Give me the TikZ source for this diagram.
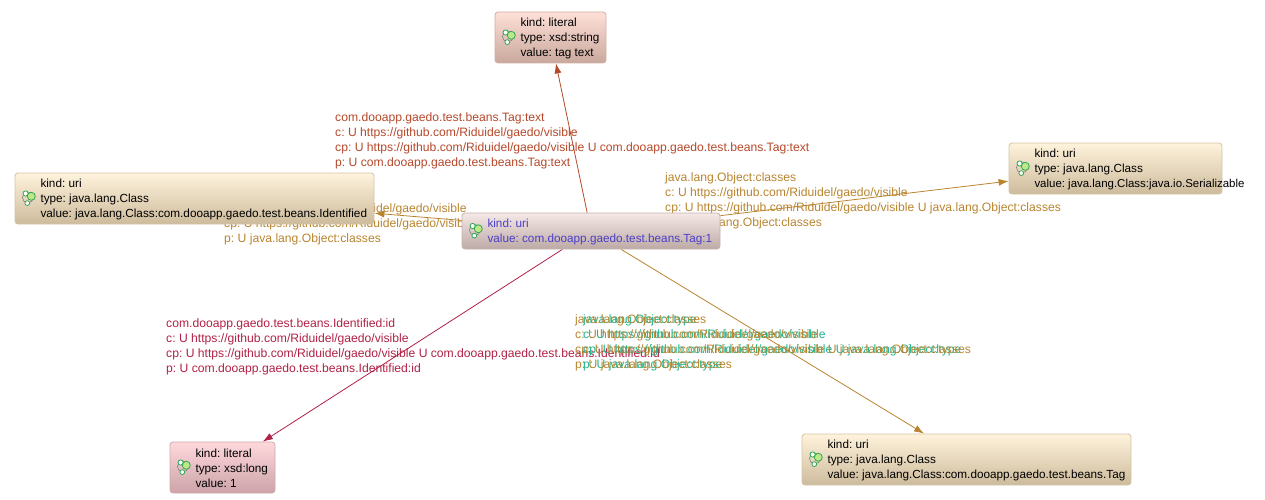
\documentclass[tikz,border=0pt]{standalone}
\usepackage{fontspec}
\setmainfont{Liberation Sans}
\frenchspacing
\usetikzlibrary{arrows.meta}
\pgfdeclarelayer{lab}\pgfdeclarelayer{edge}
\pgfsetlayers{lab,edge,main}
\definecolor{cTop}{HTML}{B5482A}
\definecolor{cBrown}{HTML}{B8842E}
\definecolor{cRed}{HTML}{B02145}
\definecolor{cGreen}{HTML}{22B58F}
\definecolor{cBlue}{HTML}{4A3FC8}
\definecolor{cIconG}{HTML}{2FA84F}
\definecolor{cIconF}{HTML}{BDE88A}
\tikzset{
 x=1pt,y=-1pt,
 txt/.style={inner sep=0pt,align=left},
 box/.style={rounded corners=3pt,draw=#1,line width=0.8pt},
 boxtxt/.style={txt,font=\fontsize{11.75}{15}\selectfont,anchor=west,text=black!90!blue},
 creamb/.style={box=cream,top color=creamT,bottom color=creamB},
 roseb/.style={box=rose,top color=roseT,bottom color=roseB},
 pinkb/.style={box=pink2,top color=pinkT,bottom color=pinkB},
 greyb/.style={box=grey2,top color=greyT,bottom color=greyB},
 lbl/.style={txt,font=\fontsize{12.15}{15}\selectfont,anchor=north west},
 link/.style={line width=0.8pt,-{Latex[length=10pt,width=7pt]}},
}
\definecolor{cream}{HTML}{D4C4A6}\definecolor{creamT}{HTML}{FFF3DC}\definecolor{creamB}{HTML}{CDBB9C}
\definecolor{rose}{HTML}{D0B0A4}\definecolor{roseT}{HTML}{FFE0D8}\definecolor{roseB}{HTML}{C9A89C}
\definecolor{pink2}{HTML}{D0A8AE}\definecolor{pinkT}{HTML}{FFD8DC}\definecolor{pinkB}{HTML}{CBA3A8}
\definecolor{grey2}{HTML}{C4B2AE}\definecolor{greyT}{HTML}{F5E8E6}\definecolor{greyB}{HTML}{BDAAA6}
\newcommand{\rdfbox}[8][black]{% colour, name, style, cx, cy, w, h, text
  \node[#3,minimum width=#6pt,minimum height=#7pt] (#2) at (#4,#5) {};
  \node[boxtxt,text=#1] (#2t) at ([shift={(25.7,1)}]#2.west) {#8};
  \begin{scope}[shift={(#2.west)}]
    \draw[gray,line width=0.6pt] (13.3,-1.0) circle (5.5);
    \draw[cIconG,fill=white,line width=0.8pt] (11,-5.0) circle (2.6);
    \draw[cIconG,fill=white,line width=0.8pt] (12.7,4.6) circle (2.4);
    \draw[cIconG,fill=cIconF,line width=0.8pt] (16.7,-2.2) circle (4);
  \end{scope}
}
\begin{document}
\begin{tikzpicture}
\useasboundingbox (0,0) rectangle (1265,500);
\rdfbox{lit}{roseb}{550.5}{37.5}{111}{51}{kind: literal\\type: xsd:string\\value: tag text}
\rdfbox[cBlue]{ctr}{greyb}{591}{231}{258}{36}{kind: uri\\value: com.dooapp.gaedo.test.beans.Tag:1}
\rdfbox{idf}{creamb}{194.5}{198.5}{359}{51}{kind: uri\\type: java.lang.Class\\value: java.lang.Class:com.dooapp.gaedo.test.beans.Identified}
\rdfbox{ser}{creamb}{1115.5}{168.5}{213}{51}{kind: uri\\type: java.lang.Class\\{\fontsize{11.45}{15}\selectfont value: java.lang.Class:java.io.Serializable}}
\rdfbox{lng}{pinkb}{222.5}{467.5}{105}{51}{kind: literal\\type: xsd:long\\value: 1}
\rdfbox{tag}{creamb}{966.5}{459.5}{329}{51}{kind: uri\\type: java.lang.Class\\value: java.lang.Class:com.dooapp.gaedo.test.beans.Tag}
\begin{pgfonlayer}{lab}
\node[lbl,text=cTop] (l1) at (335,112) {com.dooapp.gaedo.test.beans.Tag:text\\c: U https://github.com/Riduidel/gaedo/visible\\cp: U https://github.com/Riduidel/gaedo/visible U com.dooapp.gaedo.test.beans.Tag:text\\p: U com.dooapp.gaedo.test.beans.Tag:text};
\node[lbl,text=cBrown] (l2) at (665,172) {java.lang.Object:classes\\c: U https://github.com/Riduidel/gaedo/visible\\cp: U https://github.com/Riduidel/gaedo/visible U java.lang.Object:classes\\p: U java.lang.Object:classes};
\node[lbl,text=cBrown] (l3) at (224,188) {java.lang.Object:classes\\c: U https://github.com/Riduidel/gaedo/visible\\cp: U https://github.com/Riduidel/gaedo/visible U java.lang.Object:classes\\p: U java.lang.Object:classes};
\node[lbl,text=cRed] (l4) at (166,318) {com.dooapp.gaedo.test.beans.Identified:id\\c: U https://github.com/Riduidel/gaedo/visible\\cp: U https://github.com/Riduidel/gaedo/visible U com.dooapp.gaedo.test.beans.Identified:id\\p: U com.dooapp.gaedo.test.beans.Identified:id};
\node[lbl,text=cGreen] (l5) at (583,314) {java.lang.Object:type\\c: U https://github.com/Riduidel/gaedo/visible\\cp: U https://github.com/Riduidel/gaedo/visible U java.lang.Object:type\\p: U java.lang.Object:type};
\node[lbl,text=cBrown] (l6) at (575,314) {java.lang.Object:classes\\c: U https://github.com/Riduidel/gaedo/visible\\cp: U https://github.com/Riduidel/gaedo/visible U java.lang.Object:classes\\p: U java.lang.Object:classes};
\end{pgfonlayer}
\begin{pgfonlayer}{edge}
\draw[link,cTop] (ctr) -- (lit);
\draw[link,cBrown] (ctr) -- (idf);
\draw[link,cBrown] (ctr) -- (ser);
\draw[link,cRed] (ctr) -- (lng);
\draw[link,cBrown] (ctr) -- (tag);
\end{pgfonlayer}
\end{tikzpicture}
\end{document}
